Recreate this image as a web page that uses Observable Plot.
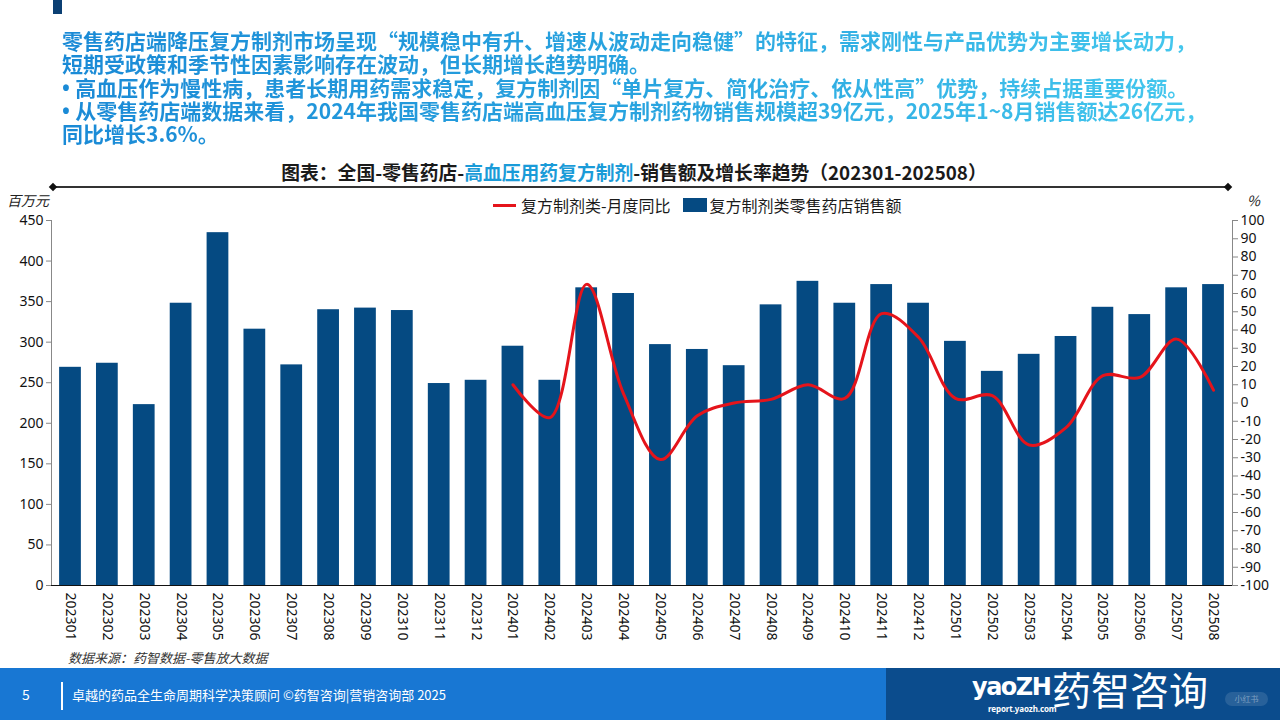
<!DOCTYPE html>
<html><head><meta charset="utf-8">
<script src="https://cdn.jsdelivr.net/npm/d3@7"></script>
<script src="https://cdn.jsdelivr.net/npm/@observablehq/plot@0.6"></script>
<style>
body{margin:0;background:#fff;font-family:"Noto Sans CJK SC","Noto Sans",sans-serif;}
#page{position:relative;width:1280px;height:720px;overflow:hidden;background:#fff;}
.abs{position:absolute;}
#corner{left:53px;top:0;width:9px;height:14px;background:#0b3f73;}
#intro{left:62px;top:29px;font-size:21px;font-weight:700;line-height:23.3px;white-space:nowrap;
  background:linear-gradient(90deg,#1a8ad6 0%,#2aa6e0 55%,#45c8ee 100%);-webkit-background-clip:text;background-clip:text;color:transparent;}
#intro div{height:23.3px;}
#intro .b{font-family:"Noto Sans",sans-serif;}
#title{left:0;width:1268px;top:158px;text-align:center;font-size:18.8px;font-weight:700;color:#1a1a1a;white-space:nowrap;}
#title .hl{color:#1a9bd8;}
#divider{left:53px;top:186px;width:1175px;height:1.5px;background:#333;}
.dia{width:6px;height:6px;background:#111;transform:rotate(45deg);}
#legend{left:493px;top:193px;font-size:16px;color:#1a1a1a;white-space:nowrap;display:flex;align-items:center;}
.unit{font-size:14px;font-style:italic;color:#222;}
#source{left:68px;top:648px;font-size:13px;font-style:italic;color:#333;}
#footL{left:0;top:668px;width:886px;height:52px;background:#1877d3;}
#footR{left:886px;top:668px;width:394px;height:52px;background:#0b4c8d;}
#chart{left:0;top:210px;}
</style></head><body><div id="page">
<div id="corner" class="abs"></div>
<div id="intro" class="abs"><div>零售药店端降压复方制剂市场呈现“规模稳中有升、增速从波动走向稳健”的特征，需求刚性与产品优势为主要增长动力，</div><div>短期受政策和季节性因素影响存在波动，但长期增长趋势明确。</div><div><span class="b">• </span>高血压作为慢性病，患者长期用药需求稳定，复方制剂因“单片复方、简化治疗、依从性高”优势，持续占据重要份额。</div><div><span class="b">• </span>从零售药店端数据来看，2024年我国零售药店端高血压复方制剂药物销售规模超39亿元，2025年1~8月销售额达26亿元，</div><div>同比增长3.6%。</div></div>
<div id="title" class="abs">图表：全国-零售药店-<span class="hl">高血压用药复方制剂</span>-销售额及增长率趋势（202301-202508）</div>
<div id="divider" class="abs"></div>
<div class="abs dia" style="left:50px;top:184px"></div>
<div class="abs dia" style="left:1225px;top:184px"></div>
<div id="legend" class="abs"><span style="display:inline-block;width:23px;height:3px;background:#e5141b;margin-right:5px"></span>复方制剂类-月度同比<span style="display:inline-block;width:24px;height:14px;background:#054a82;margin-left:12px;margin-right:3px"></span>复方制剂类零售药店销售额</div>
<div class="abs unit" style="left:7px;top:190px">百万元</div>
<div class="abs unit" style="left:1247px;top:190px">%</div>
<div id="chart" class="abs"></div>
<div id="source" class="abs">数据来源：药智数据-零售放大数据</div>
<div id="footL" class="abs"></div>
<div id="footR" class="abs"></div>
<div class="abs" style="left:22px;top:684px;font-size:14px;color:#fff">5</div>
<div class="abs" style="left:61px;top:682px;width:1.5px;height:28px;background:#fff"></div>
<div class="abs" style="left:72px;top:685px;font-size:13px;color:#fff;white-space:nowrap">卓越的药品全生命周期科学决策顾问 ©药智咨询|营销咨询部 2025</div>
<div class="abs" style="left:972px;top:673px;font-size:24px;line-height:28px;font-weight:700;color:#fff;white-space:nowrap;font-family:'DejaVu Sans',sans-serif;letter-spacing:-1.5px">yaoZH</div>
<div class="abs" style="left:1052px;top:668px;font-size:39px;line-height:40px;color:#fff;white-space:nowrap">药智咨询</div>
<div class="abs" style="left:988px;top:703px;font-size:8px;line-height:11px;font-weight:700;color:#fff;white-space:nowrap;font-family:'Noto Sans',sans-serif;letter-spacing:-0.1px">report.yaozh.com</div>
<div class="abs" style="left:1225px;top:692px;width:43px;height:14px;border-radius:7px;background:rgba(255,255,255,0.12);font-size:8px;color:rgba(255,255,255,0.4);text-align:center;line-height:14px">小红书</div>
</div>
<script>
const months = ["202301","202302","202303","202304","202305","202306","202307","202308","202309","202310","202311","202312",
  "202401","202402","202403","202404","202405","202406","202407","202408","202409","202410","202411","202412",
  "202501","202502","202503","202504","202505","202506","202507","202508"];
const sales = [269,274,223,348,435,316,272,340,342,339,249,253,
  295,253,367,360,297,291,271,346,375,348,371,348,
  301,264,285,307,343,334,367,371];
const growthMonths = months.slice(12);
const growth = [10,-8,65,5,-31,-7,0,2,10,2.5,49,36,2.5,4,-23,-13.5,15,14,35,7];
const leftTicks = [0,50,100,150,200,250,300,350,400,450];
const rightTicks = [-100,-90,-80,-70,-60,-50,-40,-30,-20,-10,0,10,20,30,40,50,60,70,80,90,100];

const ratio = 450 / 200;
const toLeft = g => (g + 100) * ratio;
const barData = months.map((m, i) => ({m, v: sales[i]}));
const lineData = growthMonths.map((m, i) => ({m, g: growth[i]}));

const chart = Plot.plot({
  width: 1280, height: 450,
  marginTop: 10, marginBottom: 75, marginLeft: 51, marginRight: 48,
  style: {fontFamily: '"Noto Sans","Noto Sans CJK SC",sans-serif', fontSize: "14px", color: "#111", background: "transparent"},
  x: {type: "band", domain: months, paddingInner: 0.41, paddingOuter: 0.22, round: false, label: null},
  y: {domain: [0, 450], label: null},
  marks: [
    Plot.barY(barData, {x: "m", y: "v", fill: "#054a82"}),
    Plot.line(lineData, {x: "m", y: d => toLeft(d.g), stroke: "#e5141b", strokeWidth: 3, curve: "catmull-rom"}),
    Plot.axisX({tickRotate: 90, tickSize: 0, tickPadding: 7, label: null, fontSize: 14}),
    Plot.axisY(leftTicks, {anchor: "left", tickSize: 5, tickPadding: 3, label: null, stroke: "#888", fill: "#111"}),
    Plot.axisY(rightTicks.map(toLeft), {anchor: "right", tickSize: 5, tickPadding: 3, label: null, stroke: "#888", fill: "#111",
      tickFormat: v => String(Math.round(v / ratio - 100))}),
    Plot.frame({anchor: "left", stroke: "#888"}),
    Plot.frame({anchor: "right", stroke: "#888"}),
    Plot.ruleY([0], {stroke: "#111", strokeWidth: 1.2})
  ]
});
document.getElementById("chart").appendChild(chart);
</script>
</body></html>
